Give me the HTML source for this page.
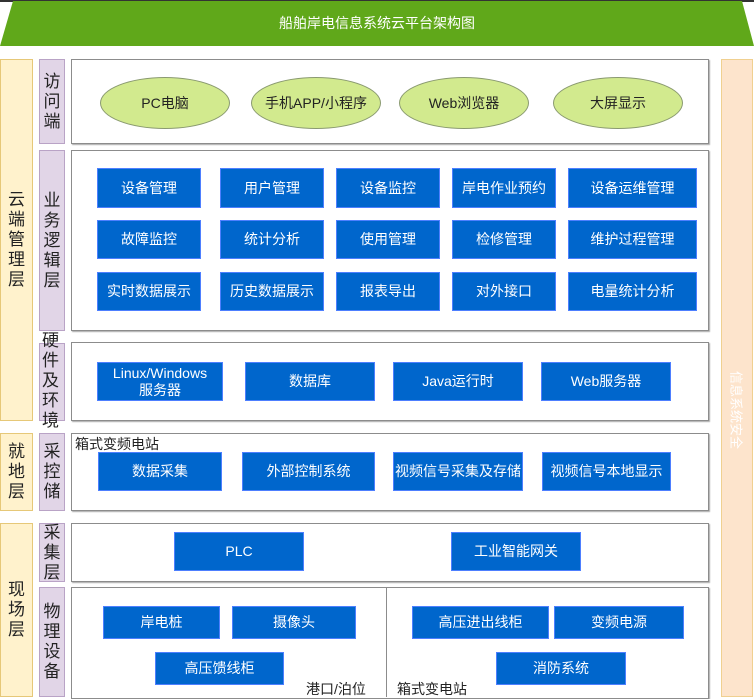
<!DOCTYPE html>
<html><head><meta charset="utf-8"><style>
*{margin:0;padding:0;box-sizing:border-box}
body{width:754px;height:697px;position:relative;background:#fff;overflow:hidden;font-family:"Liberation Sans","Noto Sans CJK SC",sans-serif}
.a{position:absolute}
.col{position:absolute;background:#fff2cc;border:1px solid #e6c878;display:flex;align-items:center;justify-content:center;font-size:17px;line-height:20px;color:#222;text-align:center}
.sub{position:absolute;background:#e1d5e7;border:1px solid #b9a3c6;display:flex;align-items:center;justify-content:center;font-size:17px;line-height:20px;color:#222;text-align:center;width:26px;left:39px}
.pan{position:absolute;left:71px;width:638px;border:1px solid #8c8c8c;box-shadow:1px 1px 1px #aaa;background:#fff}
.b{position:absolute;background:#0066cc;border:1px solid #4d7fff;color:#fff;font-size:14px;display:flex;align-items:center;justify-content:center;text-align:center;line-height:17px}
.e{position:absolute;background:#d2ea8e;border:1px solid #8a9a70;border-radius:50%;font-size:14px;color:#222;display:flex;align-items:center;justify-content:center;top:77px;height:52px;width:130px}
.t{position:absolute;font-size:14px;color:#222;white-space:nowrap}
</style></head><body>
<svg class="a" style="left:0;top:0" width="754" height="47"><rect x="0" y="0" width="754" height="2" fill="#333"/><polygon points="13,1 742,1 754,46 0,46" fill="#60a81a"/></svg>
<div class="t" style="left:0;width:754px;top:13px;text-align:center;color:#fff;font-size:14px">船舶岸电信息系统云平台架构图</div>

<div class="a" style="left:721px;top:59px;width:32px;height:638px;background:#fde4cc;border:1px solid #f0d090"></div>
<div class="t" style="left:737px;top:410px;color:#fff;font-size:13px;transform:translate(-50%,-50%) rotate(90deg)">信息系统安全</div>

<div class="col" style="left:0;top:59px;width:33px;height:362px">云<br>端<br>管<br>理<br>层</div>
<div class="col" style="left:0;top:433px;width:33px;height:78px">就<br>地<br>层</div>
<div class="col" style="left:0;top:523px;width:33px;height:174px">现<br>场<br>层</div>

<div class="sub" style="top:59px;height:85px">访<br>问<br>端</div>
<div class="sub" style="top:150px;height:181px">业<br>务<br>逻<br>辑<br>层</div>
<div class="sub" style="top:343px;height:78px"></div>
<div class="t" style="left:42px;top:331px;font-size:17px;line-height:20px;white-space:normal;width:20px">硬件及环境</div>
<div class="sub" style="top:433px;height:78px">采<br>控<br>储</div>
<div class="sub" style="top:523px;height:59px">采<br>集<br>层</div>
<div class="sub" style="top:587px;height:110px">物<br>理<br>设<br>备</div>

<div class="pan" style="top:59px;height:85px"></div>
<div class="pan" style="top:150px;height:181px"></div>
<div class="pan" style="top:342px;height:79px"></div>
<div class="pan" style="top:433px;height:78px"></div>
<div class="pan" style="top:523px;height:59px"></div>
<div class="pan" style="top:587px;height:112px"></div>
<div class="a" style="left:386px;top:587px;width:1px;height:110px;background:#8c8c8c"></div>

<div class="e" style="left:100px">PC电脑</div>
<div class="e" style="left:251px">手机APP/小程序</div>
<div class="e" style="left:399px">Web浏览器</div>
<div class="e" style="left:553px">大屏显示</div>

<div class="b" style="left:97px;top:168px;width:104px;height:40px">设备管理</div>
<div class="b" style="left:220px;top:168px;width:104px;height:40px">用户管理</div>
<div class="b" style="left:336px;top:168px;width:104px;height:40px">设备监控</div>
<div class="b" style="left:452px;top:168px;width:104px;height:40px">岸电作业预约</div>
<div class="b" style="left:568px;top:168px;width:129px;height:40px">设备运维管理</div>
<div class="b" style="left:97px;top:220px;width:104px;height:39px">故障监控</div>
<div class="b" style="left:220px;top:220px;width:104px;height:39px">统计分析</div>
<div class="b" style="left:336px;top:220px;width:104px;height:39px">使用管理</div>
<div class="b" style="left:452px;top:220px;width:104px;height:39px">检修管理</div>
<div class="b" style="left:568px;top:220px;width:129px;height:39px">维护过程管理</div>
<div class="b" style="left:97px;top:272px;width:104px;height:39px">实时数据展示</div>
<div class="b" style="left:220px;top:272px;width:104px;height:39px">历史数据展示</div>
<div class="b" style="left:336px;top:272px;width:104px;height:39px">报表导出</div>
<div class="b" style="left:452px;top:272px;width:104px;height:39px">对外接口</div>
<div class="b" style="left:568px;top:272px;width:129px;height:39px">电量统计分析</div>

<div class="b" style="left:97px;top:362px;width:126px;height:39px">Linux/Windows<br>服务器</div>
<div class="b" style="left:245px;top:362px;width:130px;height:39px">数据库</div>
<div class="b" style="left:393px;top:362px;width:130px;height:39px">Java运行时</div>
<div class="b" style="left:541px;top:362px;width:130px;height:39px">Web服务器</div>

<div class="t" style="left:75px;top:434px">箱式变频电站</div>
<div class="b" style="left:98px;top:452px;width:124px;height:39px">数据采集</div>
<div class="b" style="left:242px;top:452px;width:133px;height:39px">外部控制系统</div>
<div class="b" style="left:393px;top:452px;width:130px;height:39px">视频信号采集及存储</div>
<div class="b" style="left:542px;top:452px;width:129px;height:39px">视频信号本地显示</div>

<div class="b" style="left:174px;top:532px;width:130px;height:39px">PLC</div>
<div class="b" style="left:451px;top:532px;width:130px;height:39px">工业智能网关</div>

<div class="b" style="left:103px;top:606px;width:117px;height:33px">岸电桩</div>
<div class="b" style="left:232px;top:606px;width:124px;height:33px">摄像头</div>
<div class="b" style="left:155px;top:652px;width:129px;height:33px">高压馈线柜</div>
<div class="t" style="left:306px;top:679px">港口/泊位</div>
<div class="b" style="left:412px;top:606px;width:137px;height:33px">高压进出线柜</div>
<div class="b" style="left:554px;top:606px;width:130px;height:33px">变频电源</div>
<div class="b" style="left:496px;top:652px;width:130px;height:33px">消防系统</div>
<div class="t" style="left:397px;top:679px">箱式变电站</div>
</body></html>
